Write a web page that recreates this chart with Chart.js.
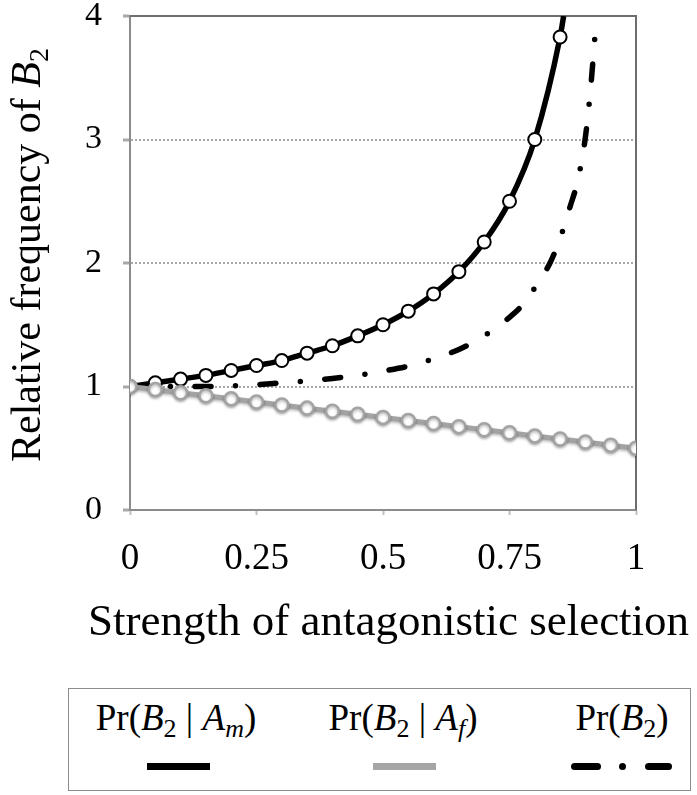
<!DOCTYPE html>
<html>
<head>
<meta charset="utf-8">
<title>Relative frequency of B2</title>
<script src="https://cdn.jsdelivr.net/npm/chart.js@4.4.0/dist/chart.umd.min.js"></script>
<style>
  body { margin: 0; background: #fff; }
  #wrap { position: relative; width: 697px; height: 795px; font-family: "Liberation Serif", "Times New Roman", serif; color: #000; }
  #chart { position: absolute; left: 0; top: 0; }
  #xTitle { position: absolute; left: 88px; width: 600px; top: 595px; text-align: center; font-size: 45px; line-height: 50px; white-space: nowrap; }
  #legendBox { position: absolute; left: 68px; top: 688px; width: 623px; height: 103px; border: 1.5px solid #8c8c8c; box-sizing: border-box; }
  .lab { position: absolute; top: 699px; width: 240px; margin-left: -120px; text-align: center; font-size: 37px; line-height: 38px; white-space: nowrap; }
  .lab sub { font-size: 26px; vertical-align: -7px; line-height: 0; }
  .swatch { position: absolute; top: 763px; height: 7px; }
</style>
</head>
<body>
<div id="wrap">
  <canvas id="chart" width="697" height="680"></canvas>
  <div id="xTitle">Strength of antagonistic selection</div>
  <div id="legendBox"></div>
  <div class="lab" style="left:176px">Pr(<i>B</i><sub>2</sub> | <i>A<sub>m</sub></i>)</div>
  <div class="lab" style="left:403px">Pr(<i>B</i><sub>2</sub> | <i>A<sub>f</sub></i>)</div>
  <div class="lab" style="left:622px">Pr(<i>B</i><sub>2</sub>)</div>
  <div class="swatch" style="left:147px;width:63px;background:#000"></div>
  <div class="swatch" style="left:373px;width:63px;background:#a6a6a6"></div>
  <div class="swatch" style="left:571px;width:30px;background:#000;border-radius:3.5px"></div>
  <div class="swatch" style="left:619px;width:7px;background:#000;border-radius:50%"></div>
  <div class="swatch" style="left:645px;width:27px;background:#000;border-radius:3.5px"></div>
</div>
<script>
// strength of antagonistic selection, sampled every 0.05
const sSteps = [0, 0.05, 0.1, 0.15, 0.2, 0.25, 0.3, 0.35, 0.4, 0.45, 0.5,
                0.55, 0.6, 0.65, 0.7, 0.75, 0.8, 0.85, 0.9, 0.95, 1];

// Pr(B2 | Am) - markers stop at 0.85, curve leaves the top of the plot just after
const prAm = [1.00, 1.03, 1.06, 1.09, 1.13, 1.17, 1.21, 1.27, 1.33, 1.41, 1.50,
              1.61, 1.75, 1.93, 2.17, 2.50, 3.00, 3.83];
const amExitS = 0.857;
const amExitV = 4.0;

// Pr(B2 | Af)
const prAf = [1.00, 0.975, 0.95, 0.925, 0.90, 0.875, 0.85, 0.825, 0.80, 0.775, 0.75,
              0.725, 0.70, 0.675, 0.65, 0.625, 0.60, 0.575, 0.55, 0.525, 0.50];

// Pr(B2) - dash-dot curve
const b2S = [0, 0.05, 0.1, 0.15, 0.2, 0.25, 0.3, 0.35, 0.4, 0.45, 0.5, 0.55, 0.6,
             0.65, 0.7, 0.75, 0.78, 0.8, 0.83, 0.85, 0.87, 0.885, 0.9, 0.91, 0.922];
const b2V = [1.00, 1.00, 1.00, 1.00, 1.005, 1.015, 1.03, 1.045, 1.065, 1.09, 1.125, 1.165, 1.225,
             1.30, 1.41, 1.56, 1.68, 1.80, 2.00, 2.20, 2.46, 2.67, 3.02, 3.40, 4.00];

const xTicks = [0, 0.25, 0.5, 0.75, 1];
const xTickLabels = ['0', '0.25', '0.5', '0.75', '1'];
const yTicks = [0, 1, 2, 3, 4];

const serif = '"Liberation Serif", "Times New Roman", serif';

const amData = prAm.map((v, i) => ({x: sSteps[i], y: v}));
amData.push({x: amExitS, y: amExitV});
const afData = prAf.map((v, i) => ({x: sSteps[i], y: v}));
const b2Data = b2V.map((v, i) => ({x: b2S[i], y: v}));

// box round the plot (top and right sides)
const frame = {
  id: 'frame',
  beforeDatasetsDraw(chart) {
    const a = chart.chartArea, ctx = chart.ctx;
    ctx.save();
    ctx.strokeStyle = '#6e6e6e';
    ctx.lineWidth = 2;
    ctx.beginPath();
    ctx.moveTo(a.left, a.top);
    ctx.lineTo(a.right, a.top);
    ctx.lineTo(a.right, a.bottom);
    ctx.stroke();
    ctx.restore();
  }
};

// soft shadow under the grey series
const greyShadow = {
  id: 'greyShadow',
  beforeDatasetDraw(chart, args) {
    if (args.index !== 0) return;
    const ctx = chart.ctx;
    ctx.save();
    ctx.shadowColor = 'rgba(0,0,0,0.3)';
    ctx.shadowBlur = 3;
    ctx.shadowOffsetY = 1.5;
  },
  afterDatasetDraw(chart, args) {
    if (args.index === 0) chart.ctx.restore();
  }
};

// y title with italic B and subscript 2
const yTitleParts = [
  {text: 'Relative frequency of ', font: '42px ' + serif, dy: 0},
  {text: 'B', font: 'italic 42px ' + serif, dy: 0},
  {text: '2', font: '28px ' + serif, dy: 8}
];
const yTitle = {
  id: 'yTitle',
  afterDraw(chart) {
    const ctx = chart.ctx;
    ctx.save();
    ctx.translate(40, 255);
    ctx.rotate(-Math.PI / 2);
    ctx.fillStyle = '#000';
    ctx.textBaseline = 'alphabetic';
    ctx.textAlign = 'left';
    let total = 0;
    yTitleParts.forEach(p => { ctx.font = p.font; total += ctx.measureText(p.text).width; });
    let x = -total / 2;
    yTitleParts.forEach(p => {
      ctx.font = p.font;
      ctx.fillText(p.text, x, p.dy);
      x += ctx.measureText(p.text).width;
    });
    ctx.restore();
  }
};

new Chart(document.getElementById('chart'), {
  type: 'line',
  data: {
    datasets: [
      {
        label: 'Pr(B2 | Af)',
        data: afData,
        borderColor: '#a3a3a3',
        borderWidth: 5,
        pointRadius: 6.5,
        pointBorderWidth: 2.5,
        pointBackgroundColor: '#fff',
        pointBorderColor: '#a3a3a3',
        tension: 0
      },
      {
        label: 'Pr(B2 | Am)',
        data: amData,
        borderColor: '#000',
        borderWidth: 5.5,
        cubicInterpolationMode: 'monotone',
        pointRadius: ctx => ctx.dataIndex < prAm.length ? 6.5 : 0,
        pointBorderWidth: 2,
        pointBackgroundColor: '#fff',
        pointBorderColor: '#000'
      },
      {
        label: 'Pr(B2)',
        data: b2Data,
        borderColor: '#000',
        borderWidth: 5.5,
        borderDash: [16, 24.5, 0, 24.5],
        borderCapStyle: 'round',
        cubicInterpolationMode: 'monotone',
        pointRadius: 0
      }
    ]
  },
  options: {
    responsive: false,
    animation: false,
    events: [],
    layout: { padding: { left: 0, right: 61, top: 16, bottom: 0 } },
    plugins: {
      legend: { display: false },
      tooltip: { enabled: false }
    },
    scales: {
      x: {
        type: 'linear',
        min: 0,
        max: 1,
        afterBuildTicks: s => { s.ticks = xTicks.map(v => ({value: v})); },
        afterFit: s => { s.height = 170; s.paddingLeft = 0; s.paddingRight = 0; },
        ticks: {
          callback: (v, i) => xTickLabels[i],
          font: { family: serif, size: 37 },
          color: '#000',
          padding: 22,
          maxRotation: 0,
          autoSkip: false
        },
        grid: {
          drawOnChartArea: false,
          tickLength: 5,
          tickColor: '#c0c0c0',
          tickWidth: 2
        },
        border: { color: '#8c8c8c', width: 2 }
      },
      y: {
        min: 0,
        max: 4,
        afterBuildTicks: s => { s.ticks = yTicks.map(v => ({value: v})); },
        afterFit: s => { s.width = 130; s.paddingTop = 0; s.paddingBottom = 0; },
        ticks: {
          font: { family: serif, size: 34 },
          color: '#000',
          padding: 21
        },
        grid: {
          color: c => (c.tick && c.tick.value > 0 && c.tick.value < 4) ? '#a8a8a8' : 'rgba(0,0,0,0)',
          lineWidth: 2,
          tickLength: 7,
          tickColor: '#a8a8a8',
          tickWidth: 3,
          tickBorderDash: []
        },
        border: { color: '#8c8c8c', width: 2, dash: [2, 2] }
      }
    }
  },
  plugins: [frame, greyShadow, yTitle]
});
</script>
</body>
</html>
